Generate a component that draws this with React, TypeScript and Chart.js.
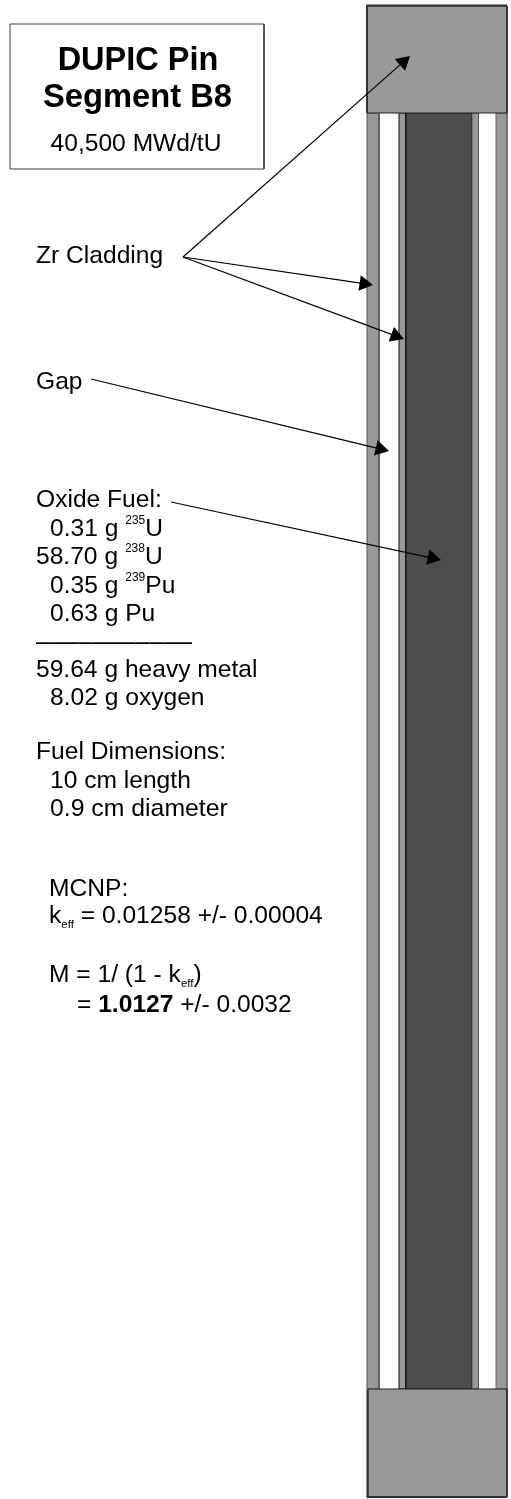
import React, { useEffect, useRef } from "react";
import { Chart, registerables } from "chart.js";

Chart.register(...registerables);

const WIDTH = 511;
const HEIGHT = 1499;
const FONT = '"Liberation Sans", Arial, sans-serif';

// x1, x2, y1, y2
const components: [number, number, number, number][] = [
  [10, 264, 24, 169],
  [367, 379, 113, 1389],
  [399, 406, 113, 1389],
  [406, 472, 113, 1389],
  [472, 478.5, 113, 1389],
  [496, 507, 113, 1389],
  [367, 507, 6, 113],
  [368, 507, 1389, 1497],
];
const componentFills = ["#ffffff", "#999999", "#999999", "#4d4d4d", "#999999", "#999999", "#999999", "#999999"];
const componentEdges = ["#404040", "#555555", "#111111", "#111111", "#555555", "#666666", "#222222", "#222222"];

// from x, from y, tip x, tip y
const pointers: [number, number, number, number][] = [
  [183, 257, 410, 56],
  [183, 257, 373, 285],
  [183, 257, 404, 339],
  [91, 379, 389, 451],
  [171, 502, 441, 560],
];

type Run = { t: string; sup?: boolean; sub?: boolean; bold?: boolean };
const plain = (t: string): Run[] => [{ t }];

const labels: [number, number, number, Run[]][] = [
  [36, 263, 24.6, plain("Zr Cladding")],
  [36, 389, 24.6, plain("Gap")],
  [36, 507, 24.6, plain("Oxide Fuel:")],
  [50, 536, 24.6, [{ t: "0.31 g " }, { t: "235", sup: true }, { t: "U" }]],
  [36, 564, 24.6, [{ t: "58.70 g " }, { t: "238", sup: true }, { t: "U" }]],
  [50, 593, 24.6, [{ t: "0.35 g " }, { t: "239", sup: true }, { t: "Pu" }]],
  [50, 621, 24.6, plain("0.63 g Pu")],
  [36, 650, 25.5, plain("–––––––––––")],
  [36, 677, 24.6, plain("59.64 g heavy metal")],
  [50, 705, 24.6, plain("8.02 g oxygen")],
  [36, 759, 24.6, plain("Fuel Dimensions:")],
  [50, 788, 24.6, plain("10 cm length")],
  [50, 816, 24.8, plain("0.9 cm diameter")],
  [49, 896, 24.6, plain("MCNP:")],
  [49, 923, 24.6, [{ t: "k" }, { t: "eff", sub: true }, { t: " = 0.01258 +/- 0.00004" }]],
  [49, 982, 24.6, [{ t: "M = 1/ (1 - k" }, { t: "eff", sub: true }, { t: ")" }]],
  [77, 1012, 24.6, [{ t: "= " }, { t: "1.0127", bold: true }, { t: " +/- 0.0032" }]],
];

const titleLines: [string, number, number, string, number][] = [
  ["DUPIC Pin", 138, 70, "bold", 32.5],
  ["Segment B8", 137.5, 107, "bold", 32.7],
  ["40,500 MWd/tU", 136, 151, "normal", 24.6],
];

const textPlugin = {
  id: "diagramText",
  afterDatasetsDraw(chart: any) {
    const { ctx, scales } = chart;
    const px = (v: number) => scales.x.getPixelForValue(v);
    const py = (v: number) => scales.y.getPixelForValue(v);
    ctx.save();
    ctx.fillStyle = "#000000";
    ctx.textBaseline = "alphabetic";
    ctx.textAlign = "center";
    for (const [t, x, y, w, s] of titleLines) {
      ctx.font = `${w} ${s}px ${FONT}`;
      ctx.fillText(t, px(x), py(y));
    }
    ctx.textAlign = "left";
    for (const [x, y, size, runs] of labels) {
      let cx = px(x);
      for (const r of runs) {
        const s = r.sup ? 12 : r.sub ? 11.5 : size;
        ctx.font = `${r.bold ? "bold " : ""}${s}px ${FONT}`;
        const dy = r.sup ? -12.5 : r.sub ? 5 : 0;
        ctx.fillText(r.t, cx, py(y) + dy);
        cx += ctx.measureText(r.t).width;
      }
    }
    ctx.restore();
  },
};

export default function App() {
  const ref = useRef<HTMLCanvasElement>(null);
  useEffect(() => {
    document.body.style.margin = "0";
    document.body.style.background = "#ffffff";
    const datasets: any[] = [];
    components.forEach(([x1, x2, y1, y2], i) => {
      datasets.push({
        data: [{ x: x1, y: y1 }, { x: x2, y: y1 }],
        showLine: true,
        pointRadius: 0,
        borderWidth: 0,
        borderColor: "transparent",
        backgroundColor: componentFills[i],
        fill: { target: { value: y2 } },
      });
      datasets.push({
        data: [
          { x: x1, y: y1 }, { x: x2, y: y1 }, { x: x2, y: y2 }, { x: x1, y: y2 }, { x: x1, y: y1 },
        ],
        showLine: true,
        pointRadius: 0,
        borderWidth: 1,
        borderColor: componentEdges[i],
        backgroundColor: "transparent",
        fill: false,
      });
    });
    // heavier left and end edges of the pin
    datasets.push({
      data: [{ x: 367, y: 5 }, { x: 367, y: 113 }],
      showLine: true, pointRadius: 0, borderWidth: 2, borderColor: "#333333",
    });
    datasets.push({
      data: [{ x: 366, y: 5.5 }, { x: 507, y: 5.5 }],
      showLine: true, pointRadius: 0, borderWidth: 2, borderColor: "#333333",
    });
    datasets.push({
      data: [{ x: 367.5, y: 1389 }, { x: 367.5, y: 1497 }, { x: 507, y: 1497 }],
      showLine: true, pointRadius: 0, borderWidth: 2, borderColor: "#333333",
    });
    const headRadius = 9;
    for (const [x0, y0, x1, y1] of pointers) {
      const len = Math.hypot(x1 - x0, y1 - y0);
      const ux = (x1 - x0) / len;
      const uy = (y1 - y0) / len;
      datasets.push({
        data: [{ x: x0, y: y0 }, { x: x1 - ux * 4, y: y1 - uy * 4 }],
        showLine: true, pointRadius: 0, borderWidth: 1.2, borderColor: "#000000",
      });
      datasets.push({
        data: [{ x: x1 - ux * headRadius, y: y1 - uy * headRadius }],
        showLine: false,
        pointStyle: "triangle",
        pointRadius: headRadius,
        pointRotation: (Math.atan2(ux, -uy) * 180) / Math.PI,
        pointBackgroundColor: "#000000",
        pointBorderWidth: 0,
        pointBorderColor: "#000000",
      });
    }
    datasets.forEach((d, i) => {
      d.order = datasets.length - i;
      d.clip = false;
    });
    const chart = new Chart(ref.current!, {
      type: "scatter",
      data: { datasets },
      options: {
        responsive: false,
        animation: false,
        events: [],
        layout: { padding: 0, autoPadding: false },
        plugins: { legend: { display: false }, tooltip: { enabled: false } },
        scales: {
          x: { type: "linear", min: 0, max: WIDTH, display: false },
          y: { type: "linear", min: 0, max: HEIGHT, reverse: true, display: false },
        },
      },
      plugins: [textPlugin],
    } as any);
    return () => chart.destroy();
  }, []);
  return (
    <canvas
      ref={ref}
      width={WIDTH}
      height={HEIGHT}
      style={{ display: "block", width: WIDTH, height: HEIGHT }}
    />
  );
}
